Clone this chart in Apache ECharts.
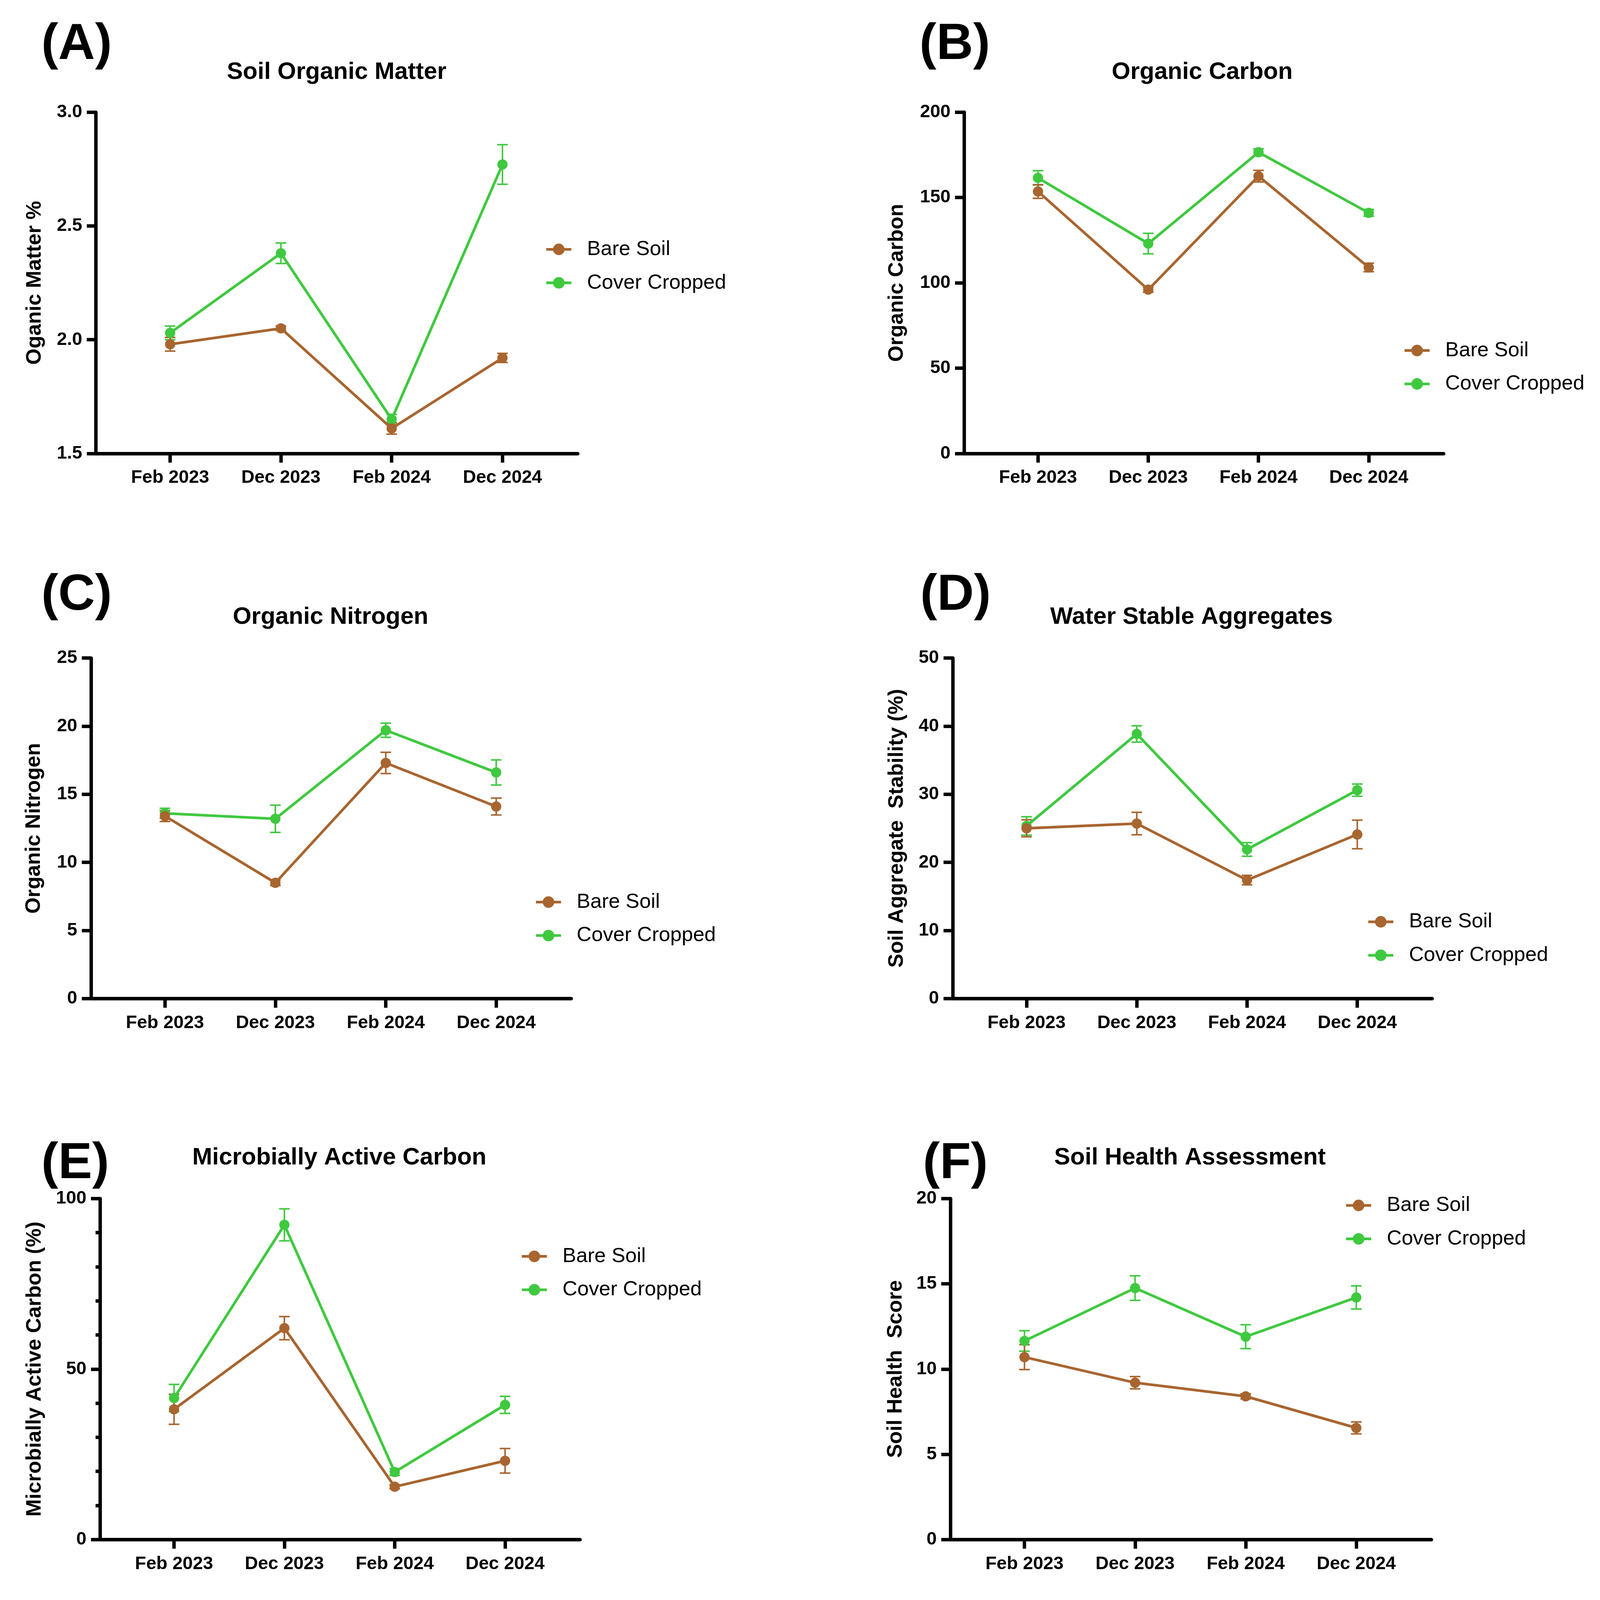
<!DOCTYPE html>
<html><head><meta charset="utf-8">
<script src="https://cdn.jsdelivr.net/npm/echarts@6/dist/echarts.min.js"></script>
<style>html,body{margin:0;padding:0;background:#fff;overflow:hidden}#c{width:100vw;height:100vh}</style>
</head><body><div id="c"></div>
<script>
// ---------- DATA ----------
const categories = ['Feb 2023', 'Dec 2023', 'Feb 2024', 'Dec 2024'];
const seriesNames = ['Bare Soil', 'Cover Cropped'];

// (A) Soil Organic Matter
const omBare = [1.98, 2.05, 1.61, 1.92];
const omBareErr = [0.03, 0.01, 0.025, 0.02];
const omCover = [2.03, 2.38, 1.65, 2.77];
const omCoverErr = [0.03, 0.045, 0.022, 0.087];
// (B) Organic Carbon
const ocBare = [153.5, 96, 162.5, 109];
const ocBareErr = [4, 1.5, 3.4, 2.5];
const ocCover = [161.5, 123, 176.5, 141];
const ocCoverErr = [4.2, 6, 2, 2];
// (C) Organic Nitrogen
const onBare = [13.4, 8.5, 17.3, 14.1];
const onBareErr = [0.4, 0.2, 0.78, 0.62];
const onCover = [13.6, 13.2, 19.7, 16.6];
const onCoverErr = [0.37, 1.0, 0.52, 0.92];
// (D) Water Stable Aggregates
const wsaBare = [25.0, 25.7, 17.4, 24.1];
const wsaBareErr = [1.25, 1.65, 0.7, 2.1];
const wsaCover = [25.35, 38.85, 21.9, 30.6];
const wsaCoverErr = [1.35, 1.2, 1.0, 0.9];
// (E) Microbially Active Carbon
const macBare = [38.2, 62.0, 15.5, 23.1];
const macBareErr = [4.4, 3.4, 0.6, 3.6];
const macCover = [41.5, 92.3, 19.8, 39.5];
const macCoverErr = [4.0, 4.7, 1.0, 2.5];
// (F) Soil Health Assessment
const shBare = [10.7, 9.2, 8.4, 6.55];
const shBareErr = [0.73, 0.36, 0.15, 0.35];
const shCover = [11.65, 14.75, 11.9, 14.2];
const shCoverErr = [0.6, 0.72, 0.7, 0.68];

const panelLetters = ['(A)', '(B)', '(C)', '(D)', '(E)', '(F)'];
const panelTitles = ['Soil Organic Matter', 'Organic Carbon', 'Organic Nitrogen',
  'Water Stable Aggregates', 'Microbially Active Carbon', 'Soil Health Assessment'];
const yNames = ['Oganic Matter %', 'Organic Carbon', 'Organic Nitrogen',
  'Soil Aggregate  Stability (%)', 'Microbially Active Carbon (%)', 'Soil Health  Score'];
const yRanges = [[1.5, 3.0, 0.5], [0, 200, 50], [0, 25, 5], [0, 50, 10], [0, 100, 50], [0, 20, 5]];
const bareData = [omBare, ocBare, onBare, wsaBare, macBare, shBare];
const bareErrData = [omBareErr, ocBareErr, onBareErr, wsaBareErr, macBareErr, shBareErr];
const coverData = [omCover, ocCover, onCover, wsaCover, macCover, shCover];
const coverErrData = [omCoverErr, ocCoverErr, onCoverErr, wsaCoverErr, macCoverErr, shCoverErr];

// ---------- LAYOUT / STYLE (designed for 4187x4209, scaled to the viewport) ----------
const W = window.innerWidth || 4187, H = window.innerHeight || 4209;
const sx = W / 4187, sy = H / 4209, s = Math.min(sx, sy);
const X = v => v * sx, Y = v => v * sy, S = v => v * s;

const BROWN = '#A8652F', GREEN = '#3FC93F';
const FONT = '"Liberation Sans", Arial, Helvetica, sans-serif';
const layout = [
  {grid: [251, 295, 1261, 898], title: [881, 190], letter: [108, 118], legend: [1426, 656], nameGap: 133, minor: false},
  {grid: [2523, 295, 1255, 898], title: [3146, 190], letter: [2406, 118], legend: [3672, 922], nameGap: 149, minor: false},
  {grid: [238, 1731, 1257, 896], title: [865, 1624], letter: [108, 1567], legend: [1399, 2373], nameGap: 122, minor: false},
  {grid: [2493, 1731, 1255, 896], title: [3118, 1624], letter: [2408, 1567], legend: [3577, 2425], nameGap: 119, minor: false},
  {grid: [262, 3153, 1256, 897], title: [888, 3046], letter: [108, 3062], legend: [1362, 3305], nameGap: 144, minor: true},
  {grid: [2487, 3153, 1259, 897], title: [3114, 3046], letter: [2415, 3062], legend: [3519, 3171], nameGap: 116, minor: false}
];

const catIdx = categories.map((c, i) => i);

function errRender(color) {
  return function (params, api) {
    const x = api.value(0), lo = api.value(1), hi = api.value(2);
    const p1 = api.coord([x, hi]), p2 = api.coord([x, lo]);
    const cw = S(14);
    const st = {stroke: color, lineWidth: S(4)};
    return {type: 'group', children: [
      {type: 'line', shape: {x1: p1[0], y1: p1[1], x2: p2[0], y2: p2[1]}, style: st},
      {type: 'line', shape: {x1: p1[0] - cw, y1: p1[1], x2: p1[0] + cw, y2: p1[1]}, style: st},
      {type: 'line', shape: {x1: p2[0] - cw, y1: p2[1], x2: p2[0] + cw, y2: p2[1]}, style: st}
    ]};
  };
}

const grids = [], xAxes = [], yAxes = [], series = [], legends = [], graphics = [];
layout.forEach((L, p) => {
  grids.push({left: X(L.grid[0]), top: Y(L.grid[1]), width: X(L.grid[2]), height: Y(L.grid[3])});
  xAxes.push({
    type: 'value', gridIndex: p, min: -0.67, max: 3.68,
    splitLine: {show: false},
    axisLine: {show: true, onZero: false, lineStyle: {color: '#000', width: S(9)}},
    axisTick: {show: true, customValues: catIdx, length: S(24), lineStyle: {color: '#000', width: S(9)}},
    axisLabel: {show: true, customValues: catIdx, formatter: v => categories[Math.round(v)] || '',
      fontSize: S(48), fontWeight: 'bold', fontFamily: FONT, color: '#000', margin: S(40)}
  });
  const r = yRanges[p];
  yAxes.push({
    type: 'value', gridIndex: p, min: r[0], max: r[1], interval: r[2],
    name: yNames[p], nameLocation: 'middle', nameRotate: 90, nameGap: S(L.nameGap),
    nameTextStyle: {fontSize: S(55), fontWeight: 'bold', fontFamily: FONT, color: '#000'},
    splitLine: {show: false},
    axisLine: {show: true, onZero: false, lineStyle: {color: '#000', width: S(9)}},
    axisTick: {show: true, length: S(24), lineStyle: {color: '#000', width: S(9)}},
    minorTick: {show: L.minor, splitNumber: 5, length: S(12), lineStyle: {color: '#000', width: S(9)}},
    axisLabel: {fontSize: S(48), fontWeight: 'bold', fontFamily: FONT, color: '#000', margin: S(36),
      formatter: v => (r[2] < 1 ? v.toFixed(1) : String(v))}
  });
  const mk = (vals, errs) => vals.map((v, i) => [i, v - errs[i], v + errs[i]]);
  series.push({type: 'custom', name: 'Cover Cropped err', xAxisIndex: p, yAxisIndex: p,
    renderItem: errRender(GREEN), data: mk(coverData[p], coverErrData[p]), encode: {x: 0, y: [1, 2]}, z: 2});
  series.push({type: 'custom', name: 'Bare Soil err', xAxisIndex: p, yAxisIndex: p,
    renderItem: errRender(BROWN), data: mk(bareData[p], bareErrData[p]), encode: {x: 0, y: [1, 2]}, z: 2});
  series.push({type: 'line', name: seriesNames[1], xAxisIndex: p, yAxisIndex: p,
    data: coverData[p].map((v, i) => [i, v]), symbol: 'circle', symbolSize: S(27),
    lineStyle: {color: GREEN, width: S(7)}, itemStyle: {color: GREEN}, z: 3});
  series.push({type: 'line', name: seriesNames[0], xAxisIndex: p, yAxisIndex: p,
    data: bareData[p].map((v, i) => [i, v]), symbol: 'circle', symbolSize: S(27),
    lineStyle: {color: BROWN, width: S(7)}, itemStyle: {color: BROWN}, z: 4});
  legends.push({
    left: X(L.legend[0]), top: Y(L.legend[1]) - S(30), orient: 'vertical', padding: 0,
    data: seriesNames, itemWidth: S(66), itemHeight: S(38), itemGap: Y(88) - S(60),
    selectedMode: false,
    lineStyle: {width: S(7)},
    textStyle: {fontSize: S(54), fontFamily: FONT, color: '#000', lineHeight: S(60), padding: [0, 0, 0, S(36)]}
  });
  graphics.push({type: 'text', x: X(L.title[0]), y: Y(L.title[1]),
    style: {text: panelTitles[p], fontSize: S(63), fontWeight: 'bold', fontFamily: FONT, fill: '#000',
      align: 'center', verticalAlign: 'middle'}});
  graphics.push({type: 'text', x: X(L.letter[0]), y: Y(L.letter[1]),
    style: {text: panelLetters[p], fontSize: S(134), fontWeight: 'bold', fontFamily: FONT, fill: '#000',
      align: 'left', verticalAlign: 'middle'}});
});

const chart = echarts.init(document.getElementById('c'), null, {renderer: 'canvas', width: W, height: H});
chart.setOption({
  animation: false,
  backgroundColor: '#fff',
  grid: grids, xAxis: xAxes, yAxis: yAxes, series: series, legend: legends,
  graphic: graphics
});
</script></body></html>
